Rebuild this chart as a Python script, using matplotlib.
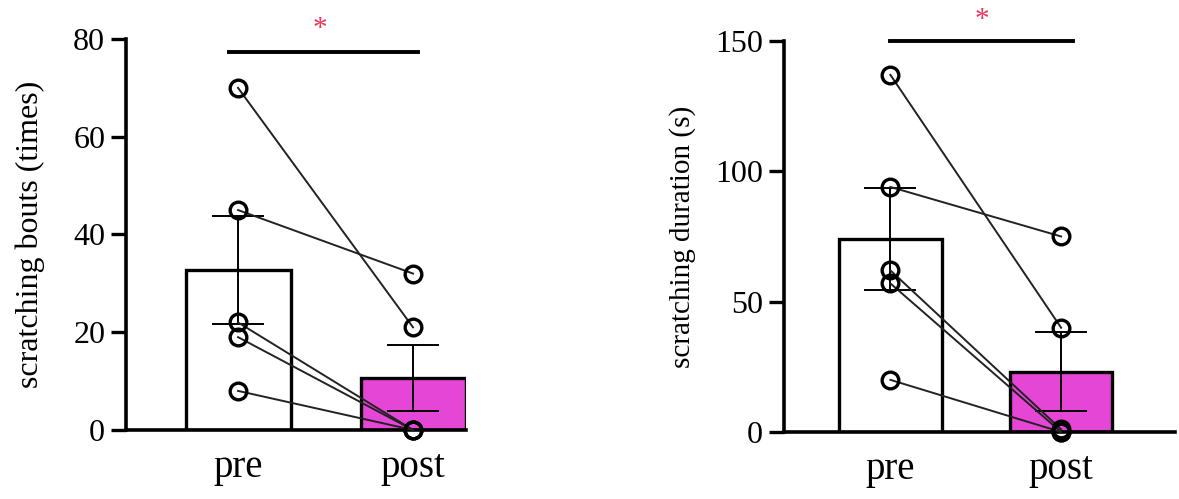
import numpy as np
import matplotlib
matplotlib.use('Agg')
from matplotlib import pyplot as plt

plt.rcParams['font.family'] = ['Liberation Serif', 'DejaVu Serif']

groups = ['pre', 'post']

# scratching bouts (times), paired per animal
bouts_pre = [70, 45, 22, 19, 8]
bouts_post = [21, 32, 0, 0, 0]

# scratching duration (s), paired per animal
dur_pre = [137, 94, 62, 57, 20]
dur_post = [40, 75, 1, 0, 0]

bar_colors = ['white', '#e646d6']
star_color = '#e8365a'


def sem(v):
    v = np.asarray(v, dtype=float)
    return v.std(ddof=1) / np.sqrt(len(v))


def paired_panel(ax, pre, post, ylabel, label_size, label_pad, yticks, ylim,
                 xlim, sig_y, sig_x, star_xy):
    x = np.arange(len(groups))
    means = [np.mean(pre), np.mean(post)]
    errs = [sem(pre), sem(post)]
    ax.bar(x, means, width=0.6, color=bar_colors, edgecolor='black',
           linewidth=2.4, zorder=1)
    ax.errorbar(x, means, yerr=errs, fmt='none', ecolor='black',
                elinewidth=1.4, capsize=19, capthick=1.4, zorder=2)
    for a, b in zip(pre, post):
        ax.plot(x, [a, b], color='#222222', lw=1.4, zorder=3, clip_on=False)
        ax.plot(x, [a, b], 'o', ms=12, mfc='none', mec='black', mew=2.4,
                zorder=4, clip_on=False)

    ax.plot(sig_x, [sig_y, sig_y], color='black', lw=2.8, clip_on=False)
    ax.text(star_xy[0], star_xy[1], '*', color=star_color, fontsize=21,
            ha='center', va='center', clip_on=False)

    ax.set_xlim(*xlim)
    ax.set_ylim(*ylim)
    ax.set_yticks(yticks)
    ax.set_xticks(x)
    ax.set_xticklabels(groups, fontsize=28)
    ax.tick_params(axis='x', length=0, pad=14)
    ax.tick_params(axis='y', length=11, width=2.4, labelsize=23, pad=4)
    ax.set_ylabel(ylabel, fontsize=label_size, labelpad=label_pad)
    for s in ['top', 'right']:
        ax.spines[s].set_visible(False)
    for s in ['left', 'bottom']:
        ax.spines[s].set_linewidth(2.6)


fig = plt.figure(figsize=(11.79, 4.99), dpi=100)
ax1 = fig.add_axes([0.1069, 0.1383, 0.2884, 0.7836])
ax2 = fig.add_axes([0.665, 0.1343, 0.3316, 0.7836])

paired_panel(ax1, bouts_pre, bouts_post, 'scratching bouts (times)', 23, 20,
             [0, 20, 40, 60, 80], (0, 80), (-0.64, 1.303),
             77.3, [-0.05, 1.03], (0.47, 82.0))
paired_panel(ax2, dur_pre, dur_post, 'scratching duration (s)', 21, 14,
             [0, 50, 100, 150], (0, 150), (-0.623, 1.667),
             150, [0.0, 1.07], (0.535, 158.0))

plt.savefig('out.png', dpi=100)
